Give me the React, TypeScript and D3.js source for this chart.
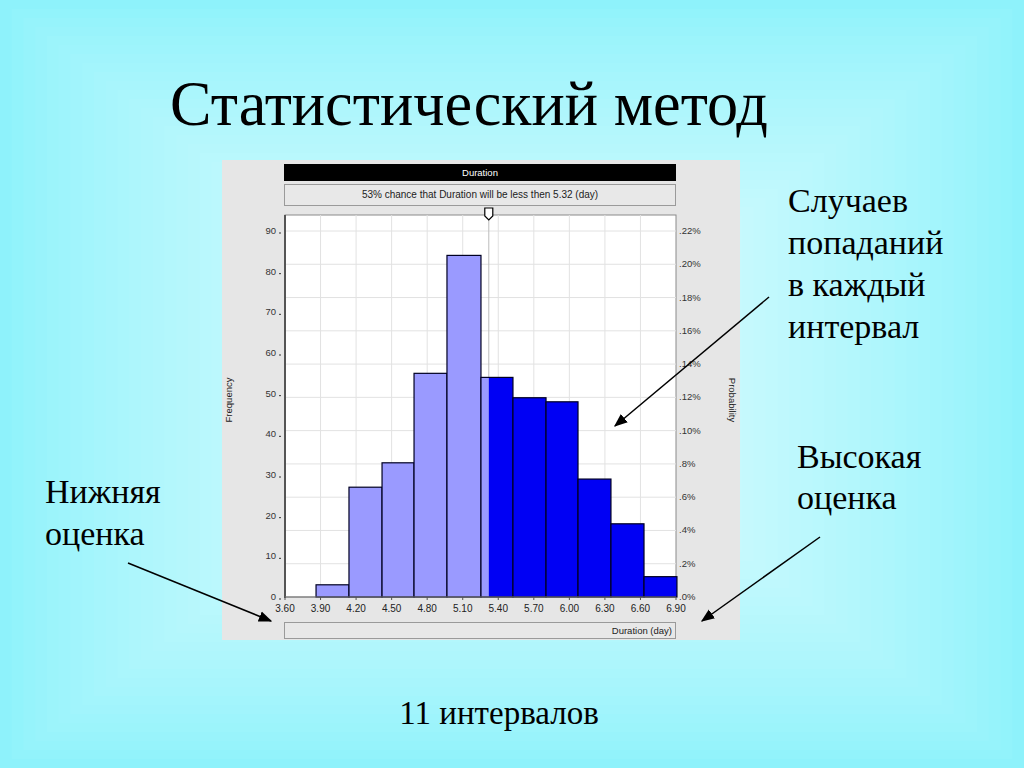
import React from "react";
import * as d3 from "d3";

// ---- data ----
const binEdges = [3.862, 4.14, 4.419, 4.689, 4.967, 5.254, 5.524, 5.803, 6.073, 6.351, 6.63, 6.908];
const frequencies = [3, 27, 33, 55, 84, 54, 49, 48, 29, 18, 5];
const xTicks = [3.6, 3.9, 4.2, 4.5, 4.8, 5.1, 5.4, 5.7, 6.0, 6.3, 6.6, 6.9];
const xTickLabels = ["3.60", "3.90", "4.20", "4.50", "4.80", "5.10", "5.40", "5.70", "6.00", "6.30", "6.60", "6.90"];
const freqTicks = [0, 10, 20, 30, 40, 50, 60, 70, 80, 90];
const probTicks = [0, 0.02, 0.04, 0.06, 0.08, 0.1, 0.12, 0.14, 0.16, 0.18, 0.2, 0.22];
const probLabels = [".0%", ".2%", ".4%", ".6%", ".8%", ".10%", ".12%", ".14%", ".16%", ".18%", ".20%", ".22%"];
const splitValue = 5.32;
const chancePct = 53;
const titleText = "Статистический метод";
const noteTopRight = ["Случаев", "попаданий", "в каждый", "интервал"];
const noteRight = ["Высокая", "оценка"];
const noteLeft = ["Нижняя", "оценка"];
const noteBottom = "11 интервалов";

const W = 1024;
const H = 768;
const plotL = 285, plotR = 676, plotT = 215, plotB = 597;

export default function App() {
  const x = d3.scaleLinear().domain([3.6, 6.9]).range([plotL, plotR]);
  const yF = d3.scaleLinear().domain([0, 90]).range([plotB, 231]);
  const yP = d3.scaleLinear().domain([0, 0.22]).range([plotB, 231]);
  const sx = x(splitValue);

  const N = 40;
  const interp = d3.interpolateRgb("#8ef2fb", "#e4fdfe");
  const bgRects = d3.range(N).map((i) => {
    const t = i / N;
    return { ix: t * 470, iy: t * 360, c: interp(Math.pow(t, 0.8)) };
  });

  const sans = "'Liberation Sans', Arial, sans-serif";
  const serif = "'Liberation Serif', 'Times New Roman', serif";

  return (
    <div style={{ position: "fixed", left: 0, top: 0, width: W, height: H }}>
      <svg width={W} height={H} style={{ display: "block" }}>
        <defs>
          <marker id="ah" viewBox="0 0 10 10" refX="9" refY="5" markerWidth="9" markerHeight="9" orient="auto">
            <path d="M0,1 L10,5 L0,9 Z" fill="#000" />
          </marker>
        </defs>
        {bgRects.map((r, i) => (
          <rect key={i} x={r.ix} y={r.iy} width={W - 2 * r.ix} height={H - 2 * r.iy} fill={r.c} />
        ))}

        <text x={170} y={125} fontFamily={serif} fontSize={64} textLength={598} lengthAdjust="spacingAndGlyphs" fill="#000">
          {titleText}
        </text>

        {/* panel */}
        <rect x={222} y={160} width={518} height={480} fill="#e6e6e6" />
        <rect x={284} y={164} width={392} height={17} fill="#000" />
        <text x={480} y={176} textAnchor="middle" fontFamily={sans} fontSize={9.5} fill="#fff">Duration</text>
        <rect x={284.5} y={184.5} width={391} height={21} fill="#e8e8e8" stroke="#9a9a9a" />
        <text x={480} y={198} textAnchor="middle" fontFamily={sans} fontSize={10} fill="#222">
          {`${chancePct}% chance that Duration will be less then ${splitValue.toFixed(2)} (day)`}
        </text>

        {/* plot area */}
        <rect x={plotL} y={plotT} width={plotR - plotL} height={plotB - plotT} fill="#fff" stroke="#8a8a8a" />
        {probTicks.slice(1).map((t) => (
          <line key={t} x1={plotL} x2={plotR} y1={yP(t)} y2={yP(t)} stroke="#e2e2e2" />
        ))}
        {xTicks.slice(1, -1).map((t) => (
          <line key={t} x1={x(t)} x2={x(t)} y1={plotT} y2={plotB} stroke="#e2e2e2" />
        ))}
        <line x1={sx} x2={sx} y1={plotT} y2={plotB} stroke="#bdbdbd" />

        {frequencies.map((f, i) => {
          const x0 = x(binEdges[i]);
          const x1 = x(binEdges[i + 1]);
          const top = yF(f);
          const lightR = Math.min(x1, sx);
          const darkL = Math.max(x0, sx);
          return (
            <g key={i}>
              {lightR > x0 && <rect x={x0} y={top} width={lightR - x0} height={plotB - top} fill="#9a9aff" />}
              {x1 > darkL && <rect x={darkL} y={top} width={x1 - darkL} height={plotB - top} fill="#0000f4" />}
              <rect x={x0} y={top} width={x1 - x0} height={plotB - top} fill="none" stroke="#000022" strokeWidth={1.2} />
            </g>
          );
        })}
        {/* split marker */}
        <path d={`M${sx - 4},208 L${sx + 4},208 L${sx + 4},216 L${sx},220 L${sx - 4},216 Z`} fill="#fff" stroke="#000" strokeWidth={1.2} />

        {/* axes */}
        <line x1={plotL} x2={plotL} y1={plotT} y2={plotB + 1} stroke="#555" strokeWidth={2} />
        <line x1={plotL} x2={plotR} y1={plotB} y2={plotB} stroke="#777" />
        {xTicks.map((t, i) => (
          <g key={t}>
            <line x1={x(t)} x2={x(t)} y1={plotB} y2={plotB + 3} stroke="#555" />
            <text x={x(t)} y={612} textAnchor="middle" fontFamily={sans} fontSize={10} fill="#222">{xTickLabels[i]}</text>
          </g>
        ))}
        {freqTicks.map((t) => (
          <g key={t}>
            <text x={276} y={yF(t) + 3} textAnchor="end" fontFamily={sans} fontSize={9.5} fill="#333">{t}</text>
            <line x1={279} x2={281} y1={yF(t) + 2} y2={yF(t) + 2} stroke="#333" />
          </g>
        ))}
        {probTicks.map((t, i) => (
          <text key={t} x={679} y={yP(t) + 3} fontFamily={sans} fontSize={9.5} fill="#333">{probLabels[i]}</text>
        ))}
        <text transform="translate(232,400) rotate(-90)" textAnchor="middle" fontFamily={sans} fontSize={9.5} fill="#222">Frequency</text>
        <text transform="translate(729,400) rotate(90)" textAnchor="middle" fontFamily={sans} fontSize={9.5} fill="#222">Probability</text>

        <rect x={284.5} y={622.5} width={391} height={16} fill="#e8e8e8" stroke="#9a9a9a" />
        <text x={672} y={634} textAnchor="end" fontFamily={sans} fontSize={9.5} fill="#222">Duration (day)</text>

        {/* annotations */}
        {noteTopRight.map((s, i) => (
          <text key={s} x={788} y={212 + i * 42} fontFamily={serif} fontSize={34} fill="#000">{s}</text>
        ))}
        {noteRight.map((s, i) => (
          <text key={s} x={797} y={468 + i * 41} fontFamily={serif} fontSize={34} fill="#000">{s}</text>
        ))}
        {noteLeft.map((s, i) => (
          <text key={s} x={45} y={503 + i * 42} fontFamily={serif} fontSize={34} fill="#000">{s}</text>
        ))}
        <text x={499} y={724} textAnchor="middle" fontFamily={serif} fontSize={33} fill="#000">{noteBottom}</text>

        <line x1={769} y1={297} x2={615} y2={426} stroke="#000" strokeWidth={1.5} markerEnd="url(#ah)" />
        <line x1={820} y1={537} x2={702} y2={621} stroke="#000" strokeWidth={1.5} markerEnd="url(#ah)" />
        <line x1={128} y1={563} x2={271} y2={621} stroke="#000" strokeWidth={1.5} markerEnd="url(#ah)" />
      </svg>
    </div>
  );
}
